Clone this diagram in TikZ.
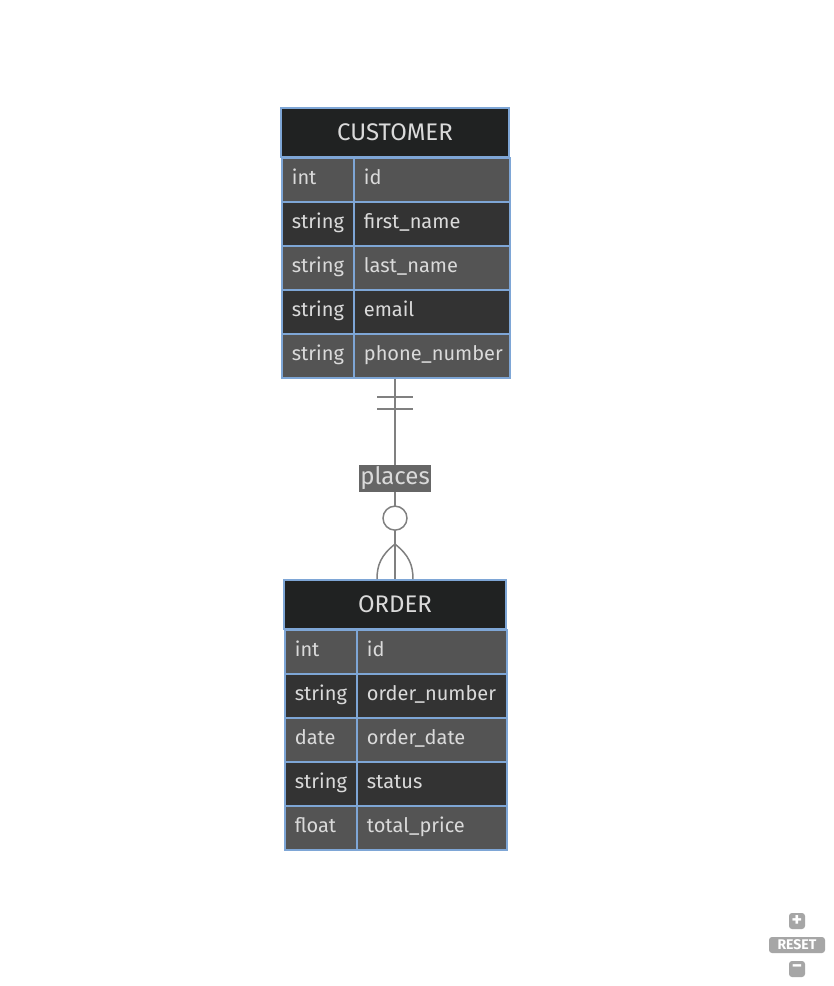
\documentclass[tikz,border=0pt]{standalone}
\usepackage{fontspec}
\setmainfont{Fira Sans}
\usepackage{tikz}
\usetikzlibrary{positioning, calc}
\definecolor{headgray}{HTML}{202222}
\definecolor{rowlight}{HTML}{545454}
\definecolor{rowdark}{HTML}{333333}
\definecolor{erblue}{HTML}{7EA6D6}
\definecolor{textgray}{HTML}{DADADA}
\definecolor{linkgray}{HTML}{808080}
\definecolor{labelgray}{HTML}{666666}
\definecolor{btngray}{HTML}{A6A6A6}

\tikzset{
  erhead/.style={draw=erblue, line width=1.75pt, fill=headgray, text=textgray,
    minimum height=49pt, inner sep=0pt, font=\fontsize{24}{26}\selectfont},
  ercell/.style={draw=erblue, line width=1.75pt, text=textgray, anchor=north west,
    minimum height=44pt, inner xsep=10pt, inner ysep=0pt, align=left,
    text height=14pt, text depth=5pt, font=\fontsize{20}{23}\selectfont},
  erlink/.style={linkgray, line width=1.5pt},
  btn/.style={fill=btngray, rounded corners=3pt, text=white, inner sep=0pt,
    minimum width=16pt, minimum height=16pt, font=\bfseries\fontsize{14}{15}\selectfont},
}

\begin{document}
\begin{tikzpicture}[x=1pt, y=-1pt]
  \useasboundingbox[fill=white] (0,0) rectangle (834,986);

  % CUSTOMER entity
  \node[erhead, minimum width=228pt] (cust) at (395,132.5) {CUSTOMER};
  \foreach \typ/\nam/\fil [count=\i] in {int/id/rowlight, string/first\_name/rowdark,
      string/last\_name/rowlight, string/email/rowdark, string/phone\_number/rowlight}{
    \node[ercell, fill=\fil, text width=52pt] (ctype\i) at (281,{157+44*(\i-1)}) {\typ};
    \node[ercell, fill=\fil, text width=136pt] (cname\i) at (353,{157+44*(\i-1)}) {\nam};
  }

  % ORDER entity
  \node[erhead, minimum width=222pt] (ord) at (395,604.5) {ORDER};
  \foreach \typ/\nam/\fil [count=\i] in {int/id/rowlight, string/order\_number/rowdark,
      date/order\_date/rowlight, string/status/rowdark, float/total\_price/rowlight}{
    \node[ercell, fill=\fil, text width=52pt] (otype\i) at (284,{629+44*(\i-1)}) {\typ};
    \node[ercell, fill=\fil, text width=130pt] (oname\i) at (356,{629+44*(\i-1)}) {\nam};
  }

  % relationship
  \coordinate (ctop) at (cust |- cname5.south);
  \coordinate (ofoot) at (ord.north);
  \draw[erlink] (ctop) -- (ofoot);
  \draw[erlink] ($(ctop)+(-18,18)$) -- ($(ctop)+(18,18)$);
  \draw[erlink] ($(ctop)+(-18,30)$) -- ($(ctop)+(18,30)$);
  \draw[erlink] ($(ofoot)+(0,-35)$) .. controls ($(ofoot)+(-14,-24)$) and ($(ofoot)+(-18,-14)$) .. ($(ofoot)+(-18,0)$);
  \draw[erlink] ($(ofoot)+(0,-35)$) .. controls ($(ofoot)+(14,-24)$) and ($(ofoot)+(18,-14)$) .. ($(ofoot)+(18,0)$);
  \draw[erlink, fill=white] ($(ofoot)+(0,-61)$) circle[radius=12pt];
  \node[fill=labelgray, text=textgray, inner xsep=1pt, inner ysep=2pt,
    font=\fontsize{24}{26}\selectfont] (places) at (395,478.5) {places};

  % zoom controls
  \node[btn, font=\bfseries\fontsize{20}{20}\selectfont] (zin) at (797,921) {+};
  \node[btn, minimum width=56pt] (zreset) at (797,945) {RESET};
  \node[btn, font=\bfseries\fontsize{20}{20}\selectfont] (zout) at (797,969) {\textminus};
\end{tikzpicture}
\end{document}
